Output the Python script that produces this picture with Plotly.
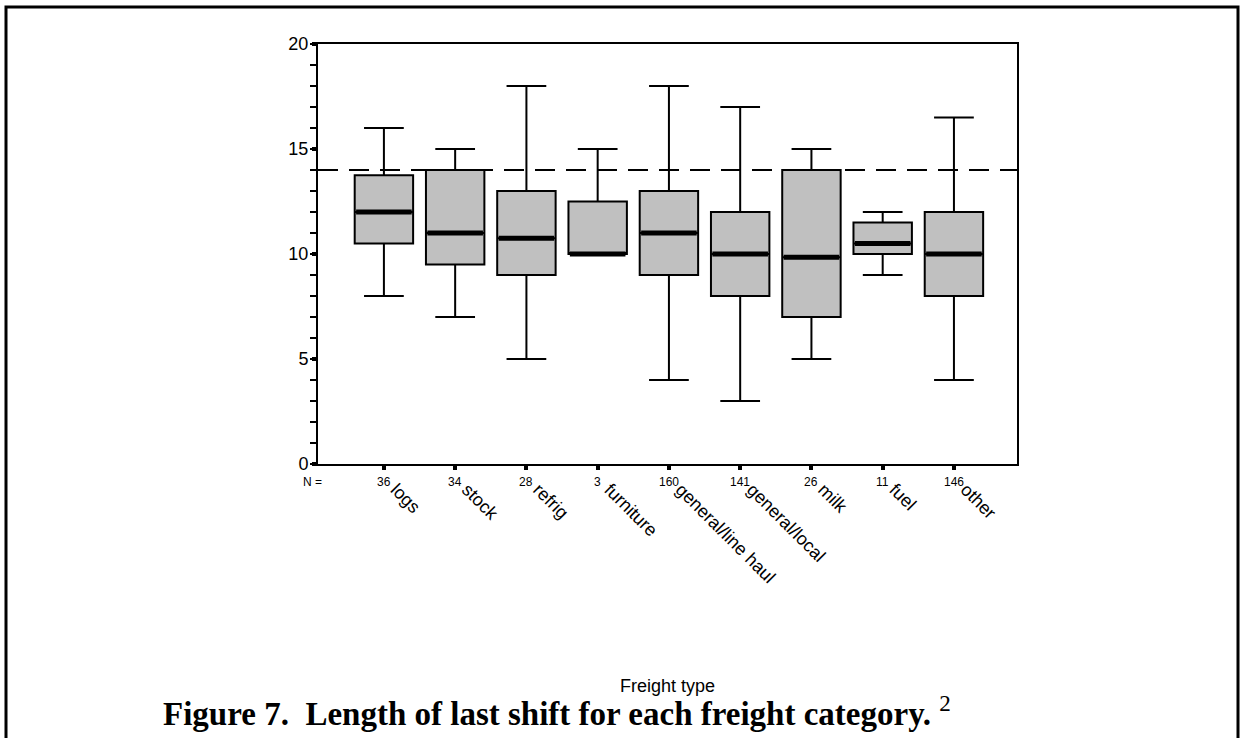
import plotly.graph_objects as go

# ---- data ----
categories = ["logs", "stock", "refrig", "furniture", "general/line haul",
              "general/local", "milk", "fuel", "other"]
n_counts = [36, 34, 28, 3, 160, 141, 26, 11, 146]
lower_whisker = [8, 7, 5, 10, 4, 3, 5, 9, 4]
q1_values = [10.5, 9.5, 9, 10, 9, 8, 7, 10, 8]
median_values = [12, 11, 10.75, 10, 11, 10, 9.85, 10.5, 10]
q3_values = [13.75, 14, 13, 12.5, 13, 12, 14, 11.5, 12]
upper_whisker = [16, 15, 18, 15, 18, 17, 15, 12, 16.5]
y_ticks = [0, 5, 10, 15, 20]
reference_line = 14

idx = list(range(len(categories)))
BOX_W = 0.82

# plot area in pixels
L, R, T, B = 318, 1017, 44, 464
W, H = 1240, 738
def px_x(p):
    return (p - L) / (R - L)
def px_y(p):
    return (B - p) / (B - T)

fig = go.Figure()
fig.add_trace(go.Box(
    x=idx, q1=q1_values, median=median_values, q3=q3_values,
    lowerfence=lower_whisker, upperfence=upper_whisker,
    width=BOX_W, whiskerwidth=0.68,
    fillcolor="#c0c0c0", line=dict(color="black", width=2),
    boxpoints=False, showlegend=False, hoverinfo="skip",
))

# thick median bars
mx, my = [], []
for i, m in zip(idx, median_values):
    mx += [i - BOX_W / 2 + 0.02, i + BOX_W / 2 - 0.02, None]
    my += [m, m, None]
fig.add_trace(go.Scatter(x=mx, y=my, mode="lines",
                         line=dict(color="black", width=5),
                         showlegend=False, hoverinfo="skip"))

fig.add_shape(type="line", xref="paper", yref="y", x0=0, x1=1,
              y0=reference_line, y1=reference_line,
              line=dict(color="black", width=2, dash="20px,11px"))

# outer frame
fig.add_shape(type="rect", xref="paper", yref="paper",
              x0=px_x(6), x1=px_x(1238), y0=px_y(760), y1=px_y(7),
              line=dict(color="black", width=3), layer="below")

small = dict(size=12, family="Liberation Sans, Arial", color="black")
annotations = []
annotations.append(dict(x=px_x(312), y=px_y(482), xref="paper", yref="paper",
                        xanchor="center", yanchor="middle",
                        text="N =", showarrow=False, font=small))
for i, n in zip(idx, n_counts):
    annotations.append(dict(x=i, y=px_y(482), xref="x", yref="paper",
                            xanchor="center", yanchor="middle",
                            text=str(n), showarrow=False, font=small))
annotations.append(dict(x=px_x(667), y=px_y(686), xref="paper", yref="paper",
                        xanchor="center", yanchor="middle",
                        text="Freight type", showarrow=False,
                        font=dict(size=18, family="Liberation Sans, Arial", color="black")))
annotations.append(dict(x=px_x(557), y=px_y(711), xref="paper", yref="paper",
                        xanchor="center", yanchor="middle",
                        text="<b>Figure 7.  Length of last shift for each freight category.</b> <sup>2</sup>",
                        showarrow=False,
                        font=dict(size=33, family="Liberation Serif, Times New Roman", color="black")))

fig.update_layout(
    width=W, height=H,
    margin=dict(l=L, r=W - R, t=T, b=H - B),
    plot_bgcolor="white", paper_bgcolor="white",
    annotations=annotations,
    font=dict(family="Liberation Sans, Arial", color="black"),
)
fig.update_xaxes(
    range=[-0.925, 8.885], tickmode="array", tickvals=idx, ticktext=categories,
    tickangle=45, tickfont=dict(size=18),
    ticklabelshift=12, ticklabelstandoff=2,
    ticks="outside", ticklen=4, tickwidth=4, tickcolor="black",
    showline=True, linecolor="black", linewidth=2, mirror=True,
    showgrid=False, zeroline=False,
)
fig.update_yaxes(
    range=[0, 20], tickmode="array", tickvals=y_ticks,
    tickfont=dict(size=18),
    ticks="outside", ticklen=4, tickwidth=4, tickcolor="black",
    minor=dict(dtick=1, ticks="outside", ticklen=6, tickwidth=1.5, tickcolor="black"),
    showline=True, linecolor="black", linewidth=2, mirror=True,
    showgrid=False, zeroline=False,
)

fig.write_html("out.html")
